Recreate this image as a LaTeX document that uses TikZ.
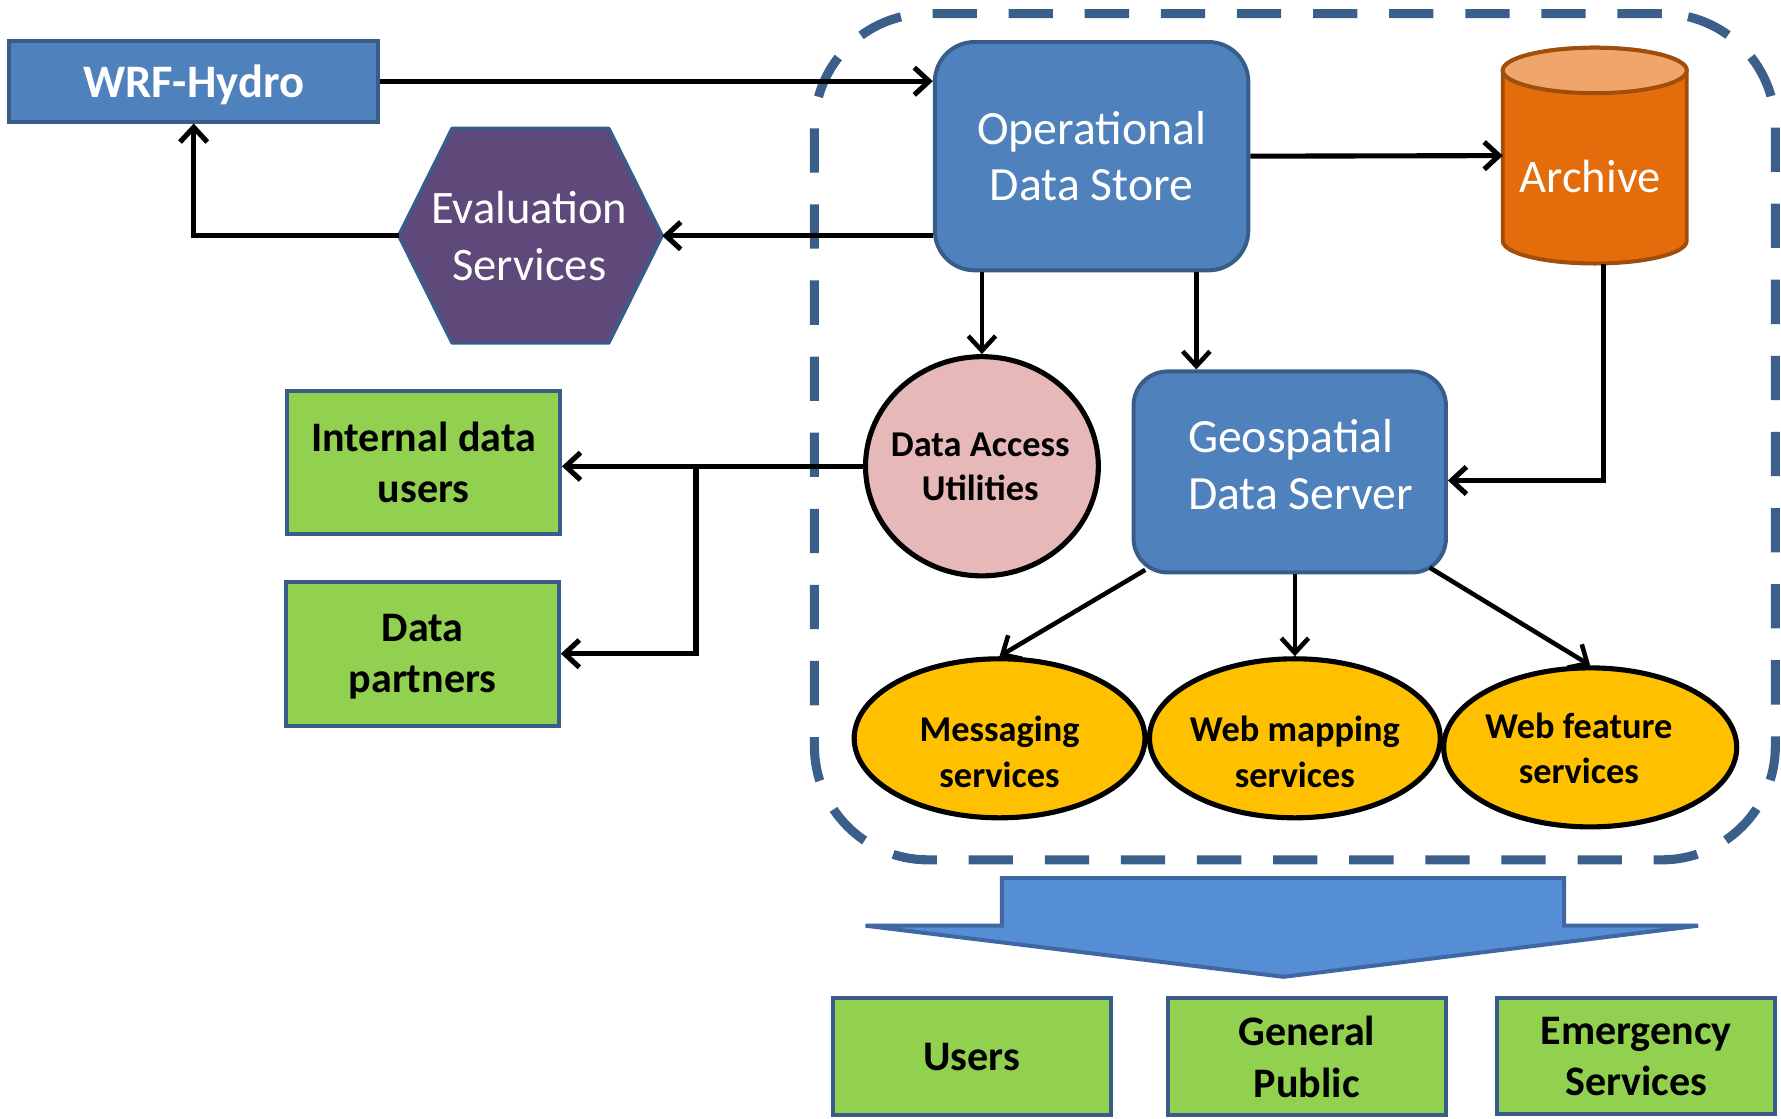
\documentclass[tikz,border=0pt]{standalone}
\usepackage{fontspec}
\setmainfont{Carlito}
\usetikzlibrary{arrows.meta,shapes.geometric}

\definecolor{boxblue}{HTML}{4F81BD}
\definecolor{boxline}{HTML}{385D8A}
\definecolor{evalpurple}{HTML}{5F497A}
\definecolor{usergreen}{HTML}{92D050}
\definecolor{dapink}{HTML}{E6B9B8}
\definecolor{svcgold}{HTML}{FFC000}
\definecolor{archorange}{HTML}{E46C0A}
\definecolor{archtop}{HTML}{F0A66B}
\definecolor{archedge}{HTML}{A04E0C}
\definecolor{flowblue}{HTML}{558ED5}
\definecolor{flowedge}{HTML}{3E67A3}
\definecolor{zoneblue}{HTML}{3A5F8B}

\begin{document}
\begin{tikzpicture}[x=1pt, y=-1pt,
  bluebox/.style={rectangle, fill=boxblue, draw=boxline, line width=3.5pt,
    inner sep=0pt, text=white},
  greenbox/.style={rectangle, fill=usergreen, draw=boxline, line width=3.5pt,
    inner sep=0pt, text=black, align=center,
    font=\bfseries\fontsize{37pt}{45pt}\selectfont},
  oval/.style={ellipse, draw=black, line width=4.5pt, inner sep=0pt},
  ghost/.style={rectangle, draw=none, inner sep=0pt, outer sep=0pt},
  whitetext/.style={text=white, inner sep=0pt, align=center,
    font=\fontsize{42pt}{50pt}\selectfont},
  ovaltext/.style={text=black, inner sep=0pt, align=center,
    font=\bfseries\fontsize{32pt}{40pt}\selectfont},
  zone/.style={rectangle, draw=zoneblue, line width=8pt, rounded corners=100pt,
    dash pattern=on 39pt off 28pt},
  link/.style={draw=black, line width=4.5pt,
    -{Straight Barb[length=13pt, width=24pt]}},
  thinlink/.style={link, line width=4pt},
]
\useasboundingbox (0,0) rectangle (1568,985);

% dashed boundary of the data services
\node[zone, minimum width=846pt, minimum height=745pt] (zone) at (1140,384.5) {};

% model and stores
\node[bluebox, minimum width=325pt, minimum height=71pt, text depth=0pt,
  font=\bfseries\fontsize{41pt}{49pt}\selectfont] (wrf) at (170.5,71.5) {WRF-Hydro};

\node[bluebox, rounded corners=35pt, minimum width=276pt, minimum height=201pt,
  align=center, font=\fontsize{42pt}{50pt}\selectfont] (ods) at (961,137.5)
  {Operational\\Data Store};

\node[bluebox, rounded corners=30pt, minimum width=275pt, minimum height=177pt]
  (gds) at (1135.5,415.5) {};
\node[whitetext, align=left] (gdstext) at (1145,409) {Geospatial\\Data Server};

% evaluation hexagon
\node[ghost, minimum width=232pt, minimum height=189pt] (eval) at (467,207.5) {};
\draw[fill=evalpurple, draw=boxline, line width=3pt, line join=round]
  (eval.west) -- ([shift={(47,0)}]eval.north west)
  -- ([shift={(-47,0)}]eval.north east) -- (eval.east)
  -- ([shift={(-47,0)}]eval.south east)
  -- ([shift={(47,0)}]eval.south west) -- cycle;
\node[whitetext, font=\fontsize{41pt}{50pt}\selectfont] (evaltext) at (466,208)
  {Evaluation\\Services};

% archive cylinder
\node[ghost, minimum width=162pt, minimum height=190pt] (archive) at (1404,137) {};
\draw[fill=archorange, draw=archedge, line width=3.5pt]
  ([shift={(0,20)}]archive.north west) -- ([shift={(0,-20)}]archive.south west)
  arc[start angle=180, end angle=360, x radius=81pt, y radius=20pt]
  -- ([shift={(0,20)}]archive.north east)
  arc[start angle=0, end angle=180, x radius=81pt, y radius=20pt] -- cycle;
\draw[fill=archtop, draw=archedge, line width=3.5pt]
  ([shift={(0,20)}]archive.north) ellipse[x radius=81pt, y radius=20pt];
\node[whitetext, font=\fontsize{41pt}{50pt}\selectfont] (archtext) at (1400,155) {Archive};

% access utilities and services
\node[oval, fill=dapink, minimum width=205pt, minimum height=193pt] (dau) at (864.5,410.5) {};
\node[ovaltext, font=\bfseries\fontsize{32pt}{39pt}\selectfont] (dautext) at (863,411)
  {Data Access\\Utilities};

\node[oval, fill=svcgold, minimum width=256pt, minimum height=140pt] (msg) at (880,650) {};
\node[ovaltext] (msgtext) at (880,662) {Messaging\\services};
\node[oval, fill=svcgold, minimum width=256pt, minimum height=140pt] (wm) at (1140,650) {};
\node[ovaltext] (wmtext) at (1140,662) {Web mapping\\services};
\node[oval, fill=svcgold, minimum width=258pt, minimum height=140pt] (wf) at (1400,658) {};
\node[ovaltext] (wftext) at (1390,659) {Web feature\\services};

% data consumers
\node[greenbox, minimum width=240pt, minimum height=126pt] (inusers) at (373,407)
  {Internal data\\users};
\node[greenbox, minimum width=240pt, minimum height=127pt, text depth=0pt]
  (partners) at (372,575.5) {Data\\partners};
\node[greenbox, minimum width=245pt, minimum height=103pt, text depth=0pt]
  (users) at (855.5,930.5) {Users};
\node[greenbox, minimum width=245pt, minimum height=103pt] (public) at (1150.5,930.5)
  {General\\Public};
\node[greenbox, minimum width=245pt, minimum height=102pt] (emergency) at (1440.5,930)
  {Emergency\\Services};

% broad delivery arrow
\draw[fill=flowblue, draw=flowedge, line width=3.5pt, line join=miter]
  (882,773) -- (1377,773) -- (1377,815) -- (1495,815) -- (1130,860)
  -- (762,815) -- (882,815) -- cycle;

% connectors
\draw[link] (wrf.east) -- (wrf.east -| ods.west);
\draw[link] (eval.east -| ods.west) -- (eval.east);
\draw[link] (eval.west) -| (wrf.south);
\draw[link] (ods.east) -- (archive.west);
\draw[thinlink] (dau.north |- ods.south) -- (dau.north);
\coordinate (gdsin) at ([shift={(57,0)}]gds.north west);
\draw[thinlink] (gdsin |- ods.south) -- (gdsin);
\draw[link] ([shift={(8,0)}]archive.south) |- ([shift={(0,7.5)}]gds.east);
\draw[link] (dau.west) -- (dau.west -| inusers.east);
\coordinate (split) at ([shift={(-147,0)}]dau.west);
\draw[link] (split) |- (partners.east);
\draw[thinlink] ([shift={(12,-4)}]gds.south west) -- (msg.north);
\draw[thinlink] (wm.north |- gds.south) -- (wm.north);
\draw[thinlink] ([shift={(-16,-6)}]gds.south east) -- (wf.north);
\end{tikzpicture}
\end{document}
